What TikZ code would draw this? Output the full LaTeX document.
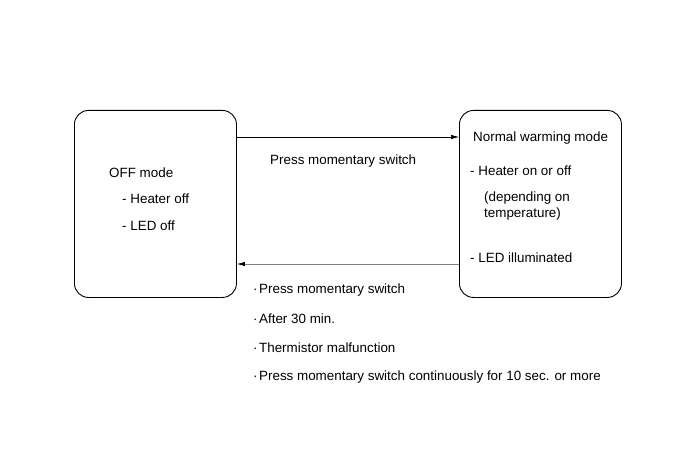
\documentclass[tikz,border=0pt]{standalone}
\usepackage{fontspec}
\setmainfont{Liberation Sans}
\usetikzlibrary{arrows.meta,calc}
\newcommand{\mdot}{\kern1pt·\kern1.5pt}
\begin{document}
\begin{tikzpicture}[x=1pt,y=-1pt,
  modebox/.style={draw=black,line width=0.9pt,rounded corners=14pt,minimum width=162pt,minimum height=187pt,inner sep=0pt,anchor=north west},
  lbl/.style={anchor=west,inner sep=0pt,font=\fontsize{13.4}{15}\selectfont},
  arr/.style={line width=0.7pt,-{Latex[length=8pt,width=4.5pt]}},
  garr/.style={line width=0.7pt,draw=black!50,-{Latex[length=8pt,width=4.5pt,color=black]}}]
\useasboundingbox (0,0) rectangle (691,465);
\node[modebox] (off) at (74,110) {};
\node[modebox] (normal) at (459,110) {};
\coordinate (ytop) at (0,137);
\coordinate (ybot) at (0,264);
\draw[arr] (off.east |- ytop) -- (normal.west |- ytop);
\draw[garr] (normal.west |- ybot) -- (off.east |- ybot);
\node[lbl] (t1) at (109,173) {OFF mode};
\node[lbl] (t2) at (122,199) {- Heater off};
\node[lbl] (t3) at (122,226) {- LED off};
\node[lbl] (t4) at (270,161) {Press momentary switch};
\node[lbl] (n1) at (473,138) {Normal warming mode};
\node[lbl] (n2) at (470,171) {- Heater on or off};
\node[lbl] (n3) at (484,198) {(depending on};
\node[lbl] (n4) at (484,214) {temperature)};
\node[lbl] (n5) at (470,258) {- LED illuminated};
\node[lbl] (b1) at (252,290) {\mdot Press momentary switch};
\node[lbl] (b2) at (252,319) {\mdot After 30 min.};
\node[lbl] (b3) at (252,348) {\mdot Thermistor malfunction};
\node[lbl] (b4) at (252,377) {\mdot Press momentary switch continuously for 10 sec. or more};
\end{tikzpicture}
\end{document}
